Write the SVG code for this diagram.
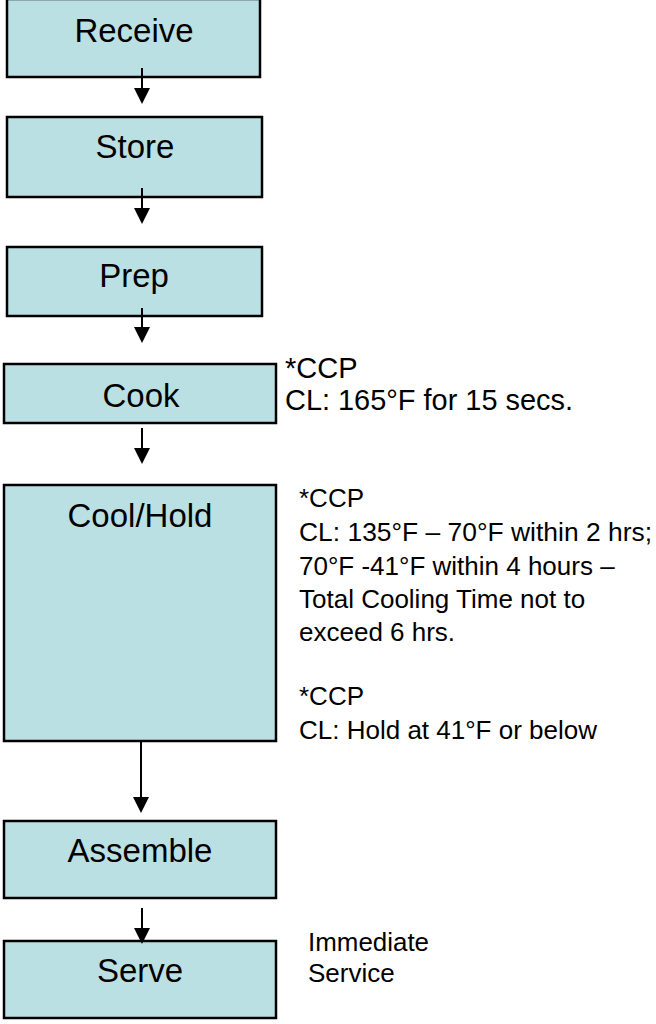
<svg xmlns="http://www.w3.org/2000/svg" width="656" height="1024" viewBox="0 0 656 1024">
<style>
.box{fill:#BBE0E3;stroke:#000;stroke-width:2.5}
.lbl{font-family:"Liberation Sans",Arial,sans-serif;font-size:33px;fill:#000;text-anchor:middle}
.note{font-family:"Liberation Sans",Arial,sans-serif;fill:#000}
.shaft{stroke:#000;stroke-width:2}
</style>
<rect width="656" height="1024" fill="#fff"/>
<g id="receive"><rect class="box" x="7" y="-1" width="253" height="78"/><text class="lbl" x="134" y="42">Receive</text></g>
<g id="store"><rect class="box" x="7" y="117" width="255" height="80"/><text class="lbl" x="135" y="158">Store</text></g>
<g id="prep"><rect class="box" x="7" y="247" width="255" height="69"/><text class="lbl" x="134" y="287">Prep</text></g>
<g id="cook"><rect class="box" x="4" y="364" width="272" height="59"/><text class="lbl" x="141" y="407">Cook</text></g>
<g id="coolhold"><rect class="box" x="4" y="485" width="272" height="256"/><text class="lbl" x="140" y="527">Cool/Hold</text></g>
<g id="assemble"><rect class="box" x="4" y="821" width="272" height="77"/><text class="lbl" x="140" y="862">Assemble</text></g>
<g id="serve"><rect class="box" x="4" y="941" width="272" height="77"/><text class="lbl" x="140" y="982">Serve</text></g>
<g id="notes">
<text class="note" font-size="29" x="285" y="378">*CCP</text>
<text class="note" font-size="29" x="285" y="410" textLength="288" lengthAdjust="spacingAndGlyphs">CL: 165°F for 15 secs.</text>
<text class="note" font-size="26" x="299" y="507">*CCP</text>
<text class="note" font-size="26" x="299" y="541" textLength="353" lengthAdjust="spacingAndGlyphs">CL: 135°F – 70°F within 2 hrs;</text>
<text class="note" font-size="26" x="299" y="575">70°F -41°F within 4 hours –</text>
<text class="note" font-size="26" x="299" y="608">Total Cooling Time not to</text>
<text class="note" font-size="26" x="299" y="641">exceed 6 hrs.</text>
<text class="note" font-size="26" x="299" y="705">*CCP</text>
<text class="note" font-size="26" x="299" y="739">CL: Hold at 41°F or below</text>
<text class="note" font-size="26" x="308" y="951" textLength="121" lengthAdjust="spacingAndGlyphs">Immediate</text>
<text class="note" font-size="26" x="308" y="982">Service</text>
</g>
<g id="connectors" fill="#000">
<line class="shaft" x1="142" y1="68" x2="142" y2="90"/><polygon points="134,88 150,88 142,104"/>
<line class="shaft" x1="142" y1="188" x2="142" y2="210"/><polygon points="134,208 150,208 142,224"/>
<line class="shaft" x1="142" y1="308" x2="142" y2="329"/><polygon points="134,327 150,327 142,343"/>
<line class="shaft" x1="142" y1="428" x2="142" y2="450"/><polygon points="134,448 150,448 142,464"/>
<line class="shaft" x1="141" y1="742" x2="141" y2="799"/><polygon points="133,797 149,797 141,813"/>
<line class="shaft" x1="142" y1="908" x2="142" y2="930"/><polygon points="134,928 150,928 142,944"/>
</g>
</svg>
